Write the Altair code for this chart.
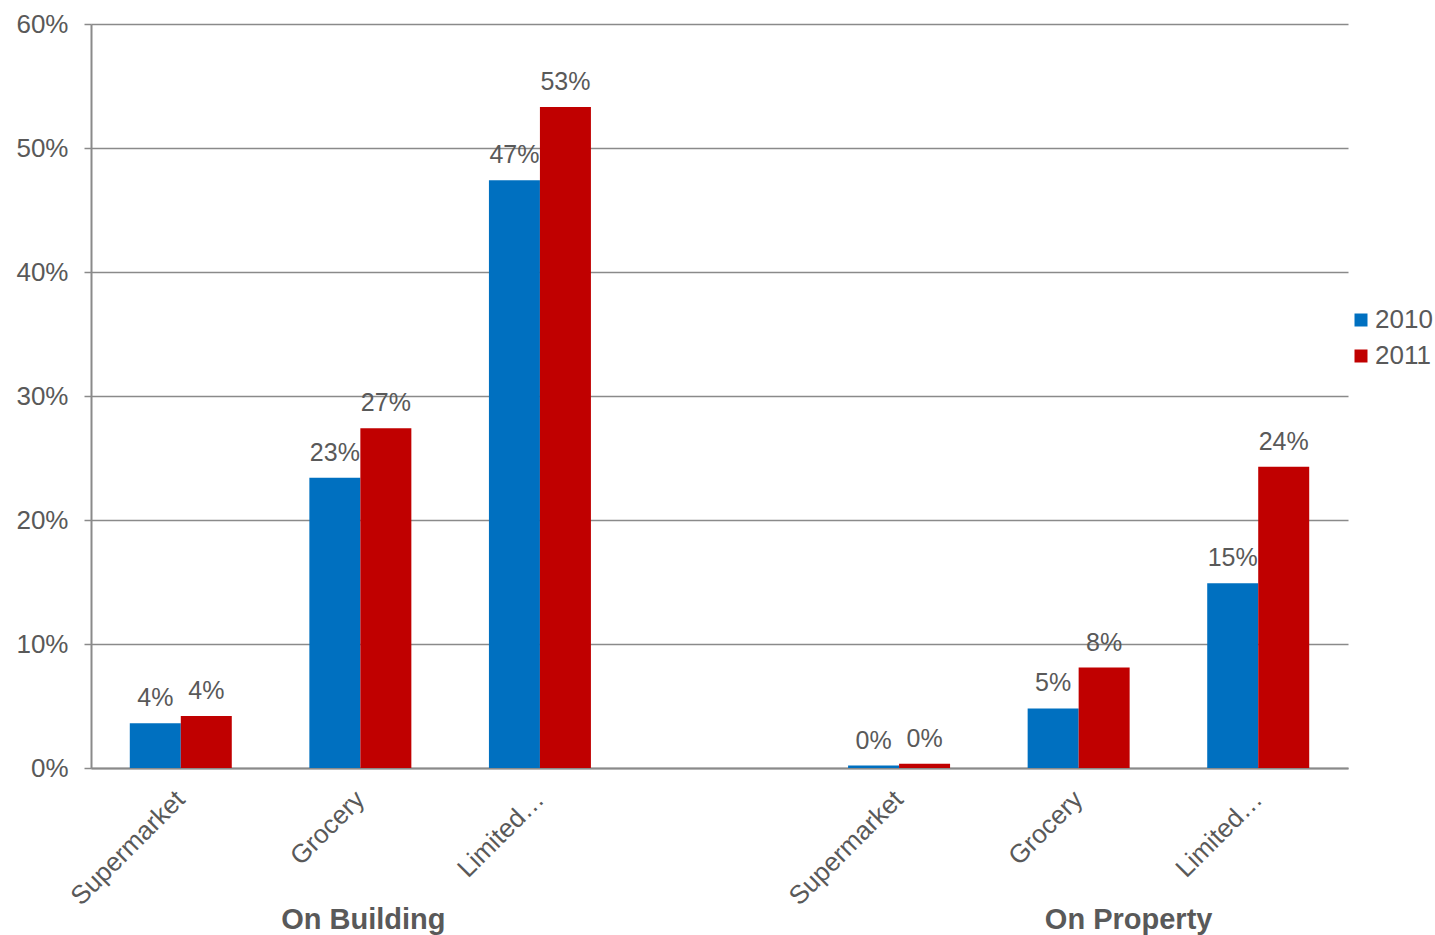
import altair as alt
import pandas as pd

groups = ["On Building", "On Building", "On Building", "On Property", "On Property", "On Property"]
stores = ["Supermarket", "Grocery", "Limited…", "Supermarket", "Grocery", "Limited…"]
years = ["2010", "2011"]
share_2010 = [0.036, 0.234, 0.474, 0.002, 0.048, 0.149]
share_2011 = [0.042, 0.274, 0.533, 0.0035, 0.081, 0.243]
y_ticks = [0.0, 0.1, 0.2, 0.3, 0.4, 0.5, 0.6]
colors = ["#0070C0", "#C00000"]

FONT = "Liberation Sans"
TXT = "#595959"
GRID = "#8A8A8A"

rows = []
for g, s, a, b in zip(groups, stores, share_2010, share_2011):
    key = ("B|" if g == "On Building" else "P|") + s
    rows.append({"key": key, "year": "2010", "value": a})
    rows.append({"key": key, "year": "2011", "value": b})
df = pd.DataFrame(rows)

b_keys = ["B|" + s for g, s in zip(groups, stores) if g == "On Building"]
p_keys = ["P|" + s for g, s in zip(groups, stores) if g == "On Property"]
domain = b_keys + ["gap|"] + p_keys

x_enc = alt.X(
    "key:N",
    scale=alt.Scale(domain=domain, paddingInner=0.432, paddingOuter=0.216),
    axis=alt.Axis(
        title=None,
        labelExpr="split(datum.label, '|')[1]",
        labelAngle=-45,
        labelAlign="right",
        labelBaseline="middle",
        labelPadding=27,
        labelFontSize=26,
        labelFont=FONT,
        labelColor=TXT,
        ticks=False,
        domainColor=GRID,
        domainWidth=2,
        grid=False,
    ),
)
xoff = alt.XOffset("year:N", scale=alt.Scale(domain=years, paddingInner=0, paddingOuter=0))
y_enc = alt.Y(
    "value:Q",
    scale=alt.Scale(domain=[0, 0.6], nice=False),
    axis=alt.Axis(
        title=None,
        values=y_ticks,
        format=".0%",
        labelFontSize=26,
        labelFont=FONT,
        labelColor=TXT,
        labelPadding=16,
        tickSize=7,
        tickColor=GRID,
        tickWidth=1.5,
        domainColor=GRID,
        domainWidth=2,
        gridColor=GRID,
        gridWidth=1.3,
    ),
)

base = alt.Chart(df)
bars = base.mark_bar(stroke="transparent").encode(
    x=x_enc,
    xOffset=xoff,
    y=y_enc,
    color=alt.Color(
        "year:N",
        scale=alt.Scale(domain=years, range=colors),
        legend=alt.Legend(
            title=None,
            orient="none",
            legendX=1257,
            legendY=283,
            symbolType="square",
            symbolSize=169,
            symbolStrokeWidth=0,
            labelFontSize=26,
            labelFont=FONT,
            labelColor=TXT,
            labelOffset=1,
            rowPadding=10,
            padding=0,
        ),
    ),
)
labels = base.mark_text(
    baseline="alphabetic", align="center", dy=-17, fontSize=25, font=FONT, color=TXT
).encode(
    x=alt.X("key:N", scale=alt.Scale(domain=domain)),
    xOffset=xoff,
    y="value:Q",
    text=alt.Text("value:Q", format=".0%"),
)

grp_df = pd.DataFrame({"key": [b_keys[1], p_keys[1]], "name": ["On Building", "On Property"]})
grp_b = alt.Chart(grp_df).transform_filter("datum.name == 'On Building'").mark_text(
    fontSize=29, fontWeight="bold", font=FONT, color=TXT, baseline="alphabetic", dx=3
).encode(x=alt.X("key:N", scale=alt.Scale(domain=domain)), y=alt.value(905), text="name:N")
grp_p = alt.Chart(grp_df).transform_filter("datum.name == 'On Property'").mark_text(
    fontSize=29, fontWeight="bold", font=FONT, color=TXT, baseline="alphabetic", dx=50
).encode(x=alt.X("key:N", scale=alt.Scale(domain=domain)), y=alt.value(905), text="name:N")

chart = (
    alt.layer(bars, labels, grp_b, grp_p)
    .properties(
        width=1257,
        height=744,
        background="white",
        autosize=alt.AutoSizeParams(type="none"),
        padding={"left": 91, "top": 24, "right": 87, "bottom": 167},
    )
    .configure_view(strokeWidth=0, stroke="transparent")
)

chart.save("out.html", embed_options={"renderer": "svg", "actions": False})
